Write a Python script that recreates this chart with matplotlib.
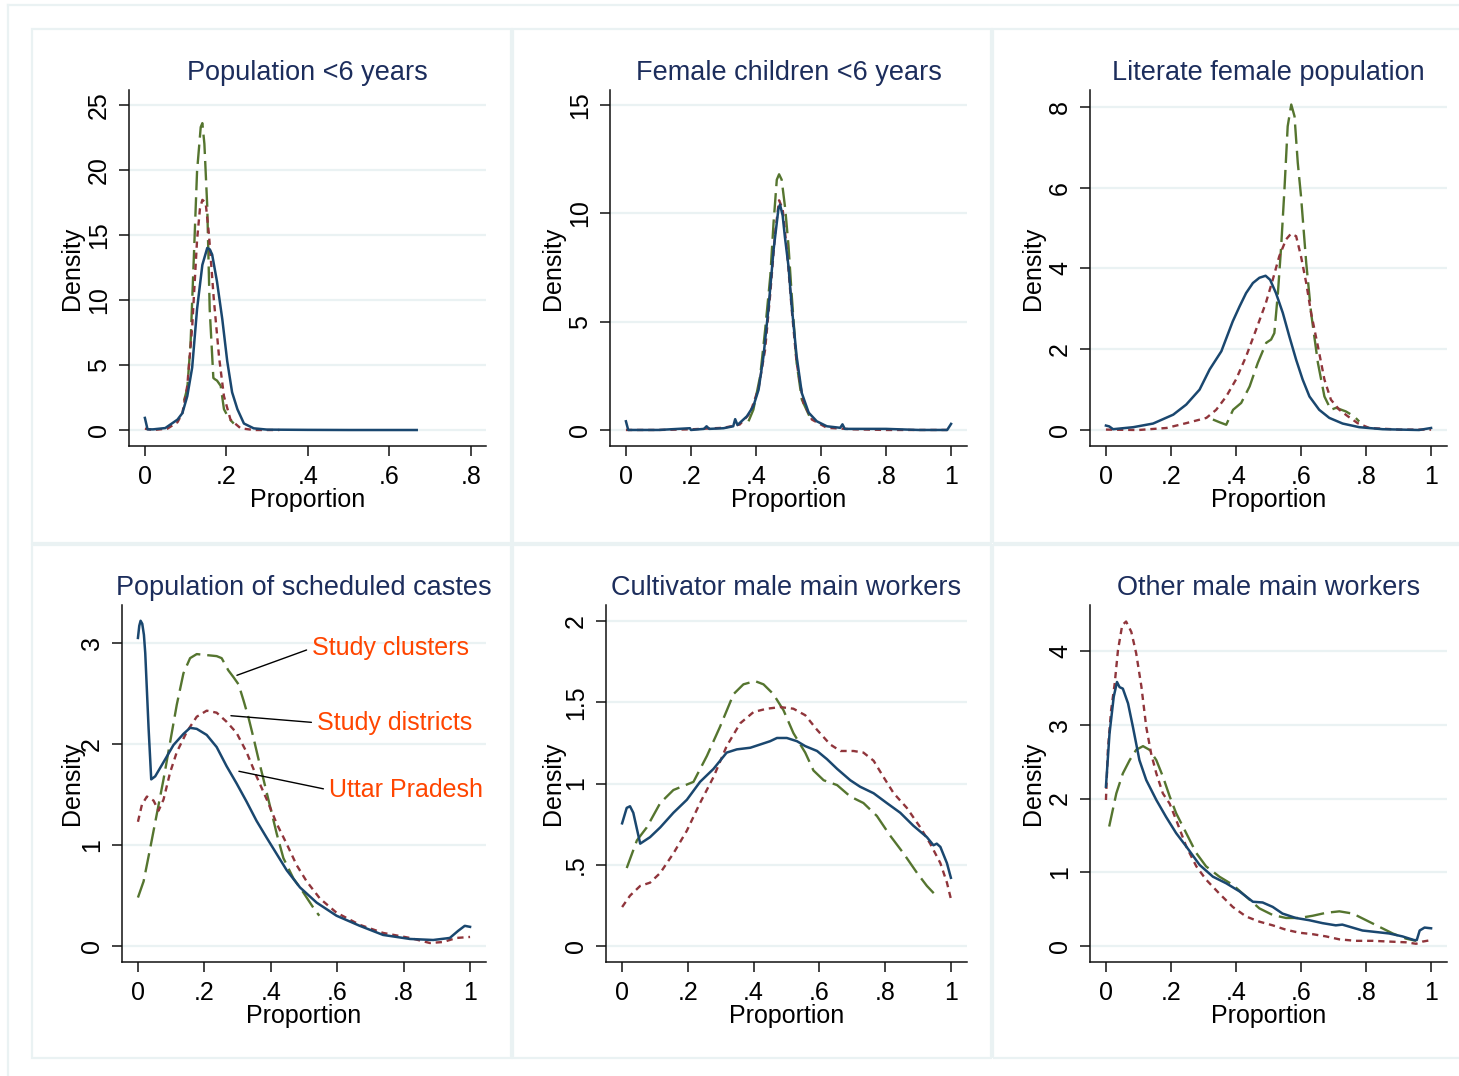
import matplotlib
matplotlib.use('Agg')
import matplotlib.pyplot as plt
from matplotlib.patches import Rectangle
from matplotlib.lines import Line2D

# Density curves (proportion vs density).
# UP = Uttar Pradesh, SD = Study districts, SC = Study clusters

# Population <6 years
p1_up_x = [0, 0.0065, 0.02, 0.05, 0.08, 0.092, 0.104, 0.116, 0.128, 0.141, 0.153, 0.159, 0.165, 0.177,
           0.19, 0.202, 0.214, 0.227, 0.243, 0.267, 0.3, 0.4, 0.5, 0.6, 0.667]
p1_up_y = [0.93, 0.05, 0.05, 0.15, 0.8, 1.3, 2.6, 4.8, 9.3, 12.7, 14.0, 13.9, 13.5, 11.4,
           8.5, 5.3, 2.9, 1.6, 0.5, 0.13, 0.03, 0.01, 0.0, 0.0, 0.0]
p1_sd_x = [0, 0.02, 0.055, 0.08, 0.092, 0.104, 0.116, 0.128, 0.135, 0.141, 0.149, 0.157, 0.169, 0.182,
           0.194, 0.21, 0.235, 0.267, 0.3, 0.33]
p1_sd_y = [0.1, 0.0, 0.1, 0.6, 1.3, 3.4, 7.9, 14.6, 17.0, 17.7, 17.5, 15.1, 10.1, 5.6,
           2.6, 0.8, 0.13, 0.0, 0.0, 0.0]
p1_sc_x = [0.096, 0.104, 0.112, 0.12, 0.128, 0.137, 0.141, 0.146, 0.153, 0.159, 0.168, 0.172, 0.177,
           0.186, 0.194, 0.206, 0.218]
p1_sc_y = [2.25, 3.2, 6.6, 13.2, 19.9, 23.3, 23.6, 22.0, 17.2, 9.3, 4.0, 3.9, 3.8,
           3.4, 1.6, 0.9, 0.5]

# Female children <6 years
p2_up_x = [0, 0.007, 0.1, 0.197, 0.2, 0.24, 0.248, 0.256, 0.3, 0.33, 0.336, 0.343, 0.372, 0.392, 0.408,
           0.423, 0.438, 0.454, 0.469, 0.474, 0.482, 0.489, 0.5, 0.51, 0.525, 0.541, 0.562, 0.587,
           0.618, 0.659, 0.666, 0.673, 0.74, 0.8, 0.9, 0.988, 1.0]
p2_up_y = [0.4, 0.0, 0.0, 0.08, 0.0, 0.05, 0.17, 0.05, 0.08, 0.17, 0.5, 0.23, 0.63, 1.1, 1.86,
           3.4, 5.55, 8.3, 10.2, 10.4, 9.9, 8.9, 7.55, 5.7, 3.4, 1.7, 0.8, 0.4,
           0.17, 0.1, 0.26, 0.05, 0.05, 0.05, 0.0, 0.0, 0.28]
p2_sd_x = [0, 0.1, 0.2, 0.3, 0.35, 0.382, 0.408, 0.428, 0.444, 0.459, 0.471, 0.482, 0.495, 0.51, 0.525,
           0.546, 0.572, 0.618, 0.7, 0.8, 0.9, 0.988]
p2_sd_y = [0.0, 0.0, 0.03, 0.1, 0.25, 0.78, 1.94, 3.7, 6.3, 9.1, 10.6, 10.2, 8.3, 5.55, 3.1,
           1.25, 0.48, 0.1, 0.03, 0.0, 0.0, 0.0]
p2_sc_x = [0.377, 0.392, 0.413, 0.428, 0.444, 0.454, 0.464, 0.471, 0.479, 0.49, 0.5, 0.51, 0.525,
           0.541, 0.567, 0.577]
p2_sc_y = [0.4, 0.94, 2.5, 4.6, 7.1, 9.55, 11.55, 11.8, 11.55, 10.2, 8.5, 6.2, 3.1,
           1.4, 0.55, 0.45]

# Literate female population
p3_up_x = [0, 0.01, 0.022, 0.084, 0.145, 0.207, 0.247, 0.288, 0.319, 0.355, 0.39, 0.411, 0.431, 0.452,
           0.472, 0.491, 0.505, 0.523, 0.544, 0.564, 0.585, 0.605, 0.626, 0.656, 0.687, 0.728,
           0.779, 0.851, 0.963, 1.0]
p3_up_y = [0.11, 0.09, 0.02, 0.07, 0.16, 0.38, 0.63, 1.0, 1.5, 1.95, 2.69, 3.06, 3.39, 3.64,
           3.77, 3.82, 3.72, 3.39, 2.9, 2.32, 1.74, 1.25, 0.83, 0.5, 0.3, 0.16,
           0.07, 0.02, 0.0, 0.05]
p3_sd_x = [0, 0.1, 0.186, 0.247, 0.309, 0.339, 0.37, 0.4, 0.431, 0.462, 0.492, 0.513, 0.533, 0.554,
           0.569, 0.585, 0.6, 0.616, 0.631, 0.652, 0.672, 0.692, 0.718, 0.744, 0.774, 0.81, 0.902, 1.0]
p3_sd_y = [0.01, 0.0, 0.05, 0.17, 0.3, 0.5, 0.83, 1.25, 1.82, 2.49, 3.15, 3.72, 4.3, 4.72,
           4.86, 4.8, 4.3, 3.64, 2.9, 2.07, 1.25, 0.75, 0.5, 0.34, 0.17, 0.05, 0.01, 0.01]
p3_sc_x = [0.329, 0.35, 0.37, 0.391, 0.416, 0.442, 0.467, 0.493, 0.508, 0.518, 0.529, 0.539, 0.549,
           0.559, 0.57, 0.58, 0.59, 0.6, 0.616, 0.631, 0.652, 0.672, 0.692, 0.708, 0.738, 0.763, 0.779]
p3_sc_y = [0.26, 0.19, 0.13, 0.5, 0.67, 1.08, 1.66, 2.16, 2.24, 2.4, 3.4, 4.55, 5.95,
           7.52, 8.06, 7.77, 6.62, 5.79, 4.14, 2.9, 1.66, 0.83, 0.5, 0.55, 0.46, 0.34, 0.21]

# Population of scheduled castes
p4_up_x = [0, 0.004, 0.008, 0.013, 0.018, 0.022, 0.032, 0.04, 0.052, 0.077, 0.107, 0.137, 0.157, 0.177,
           0.207, 0.237, 0.267, 0.297, 0.327, 0.357, 0.388, 0.418, 0.448, 0.488, 0.538, 0.598,
           0.668, 0.738, 0.819, 0.889, 0.939, 0.964, 0.984, 1.0]
p4_up_y = [3.05, 3.17, 3.22, 3.19, 3.08, 2.9, 2.16, 1.65, 1.68, 1.82, 1.99, 2.1, 2.16, 2.15,
           2.09, 1.97, 1.78, 1.61, 1.43, 1.24, 1.07, 0.91, 0.75, 0.58, 0.43, 0.3,
           0.2, 0.11, 0.07, 0.06, 0.08, 0.15, 0.2, 0.19]
p4_sd_x = [0, 0.012, 0.027, 0.047, 0.062, 0.077, 0.097, 0.117, 0.147, 0.177, 0.207, 0.237, 0.267, 0.297,
           0.327, 0.357, 0.388, 0.418, 0.448, 0.478, 0.508, 0.548, 0.598, 0.668, 0.738, 0.819,
           0.879, 0.919, 0.959, 1.0]
p4_sd_y = [1.23, 1.4, 1.48, 1.44, 1.34, 1.45, 1.72, 1.92, 2.12, 2.27, 2.33, 2.31, 2.22, 2.11,
           1.92, 1.68, 1.45, 1.21, 1.01, 0.8, 0.64, 0.47, 0.33, 0.21, 0.13, 0.08,
           0.03, 0.04, 0.08, 0.09]
p4_sc_x = [0, 0.017, 0.037, 0.057, 0.077, 0.097, 0.117, 0.137, 0.157, 0.177, 0.207, 0.237, 0.252, 0.272,
           0.288, 0.303, 0.318, 0.333, 0.348, 0.363, 0.378, 0.398, 0.418, 0.438, 0.468, 0.498,
           0.528, 0.546]
p4_sc_y = [0.48, 0.64, 0.97, 1.31, 1.65, 2.02, 2.39, 2.7, 2.85, 2.89, 2.88, 2.87, 2.85, 2.73,
           2.66, 2.59, 2.43, 2.26, 2.06, 1.85, 1.65, 1.38, 1.11, 0.87, 0.67, 0.53,
           0.38, 0.3]

# Cultivator male main workers
p5_up_x = [0, 0.014, 0.024, 0.034, 0.055, 0.085, 0.116, 0.156, 0.197, 0.237, 0.278, 0.318, 0.349, 0.39,
           0.42, 0.45, 0.471, 0.501, 0.532, 0.557, 0.593, 0.623, 0.654, 0.694, 0.724, 0.765,
           0.805, 0.846, 0.886, 0.927, 0.947, 0.957, 0.968, 0.988, 1.0]
p5_up_y = [0.755, 0.85, 0.86, 0.82, 0.63, 0.67, 0.73, 0.82, 0.9, 1.01, 1.09, 1.19, 1.21, 1.22,
           1.24, 1.26, 1.28, 1.28, 1.26, 1.23, 1.2, 1.15, 1.09, 1.02, 0.98, 0.94,
           0.88, 0.82, 0.74, 0.67, 0.62, 0.63, 0.61, 0.51, 0.42]
p5_sd_x = [0, 0.024, 0.055, 0.085, 0.116, 0.156, 0.197, 0.237, 0.278, 0.318, 0.359, 0.4, 0.44, 0.481,
           0.521, 0.557, 0.593, 0.633, 0.664, 0.704, 0.734, 0.765, 0.795, 0.826, 0.866, 0.907,
           0.937, 0.968, 0.988, 1.0]
p5_sd_y = [0.24, 0.31, 0.37, 0.39, 0.45, 0.57, 0.71, 0.88, 1.04, 1.23, 1.37, 1.44, 1.46, 1.47,
           1.46, 1.42, 1.33, 1.24, 1.2, 1.2, 1.19, 1.14, 1.04, 0.94, 0.85, 0.73,
           0.63, 0.51, 0.39, 0.29]
p5_sc_x = [0.014, 0.045, 0.075, 0.116, 0.156, 0.217, 0.258, 0.298, 0.339, 0.369, 0.404, 0.43, 0.46,
           0.491, 0.521, 0.557, 0.582, 0.613, 0.654, 0.694, 0.734, 0.775, 0.815, 0.856, 0.897,
           0.927, 0.955]
p5_sc_y = [0.48, 0.65, 0.73, 0.88, 0.96, 1.01, 1.17, 1.35, 1.55, 1.61, 1.63, 1.61, 1.55,
           1.45, 1.31, 1.19, 1.08, 1.02, 0.99, 0.92, 0.88, 0.8, 0.68, 0.57, 0.45,
           0.37, 0.31]

# Other male main workers
p6_up_x = [0, 0.011, 0.024, 0.034, 0.042, 0.052, 0.068, 0.083, 0.103, 0.124, 0.155, 0.185, 0.216, 0.247,
           0.288, 0.329, 0.37, 0.411, 0.452, 0.482, 0.513, 0.543, 0.584, 0.625, 0.666, 0.707,
           0.727, 0.758, 0.789, 0.83, 0.871, 0.912, 0.948, 0.956, 0.965, 0.98, 1.0]
p6_up_y = [2.16, 2.88, 3.38, 3.58, 3.51, 3.49, 3.29, 2.97, 2.52, 2.25, 1.98, 1.75, 1.53, 1.35,
           1.1, 0.94, 0.85, 0.74, 0.6, 0.59, 0.53, 0.44, 0.38, 0.35, 0.31, 0.28,
           0.29, 0.25, 0.21, 0.19, 0.17, 0.13, 0.08, 0.08, 0.21, 0.25, 0.24]
p6_sd_x = [0, 0.006, 0.016, 0.027, 0.037, 0.05, 0.062, 0.078, 0.093, 0.109, 0.124, 0.139, 0.155, 0.175,
           0.196, 0.216, 0.247, 0.278, 0.308, 0.349, 0.39, 0.431, 0.472, 0.513, 0.554, 0.595,
           0.636, 0.677, 0.718, 0.769, 0.821, 0.872, 0.923, 0.954, 0.974, 1.0]
p6_sd_y = [1.98, 2.66, 3.2, 3.56, 4.01, 4.35, 4.4, 4.26, 3.97, 3.52, 2.97, 2.61, 2.34, 2.07,
           1.93, 1.71, 1.35, 1.08, 0.9, 0.71, 0.53, 0.4, 0.33, 0.28, 0.22, 0.18,
           0.16, 0.13, 0.09, 0.07, 0.07, 0.06, 0.05, 0.03, 0.06, 0.08]
p6_sc_x = [0.01, 0.032, 0.052, 0.073, 0.093, 0.114, 0.134, 0.155, 0.175, 0.196, 0.216, 0.247, 0.278,
           0.308, 0.349, 0.39, 0.431, 0.472, 0.513, 0.554, 0.595, 0.636, 0.677, 0.718, 0.759,
           0.8, 0.841, 0.882, 0.923, 0.954]
p6_sc_y = [1.62, 2.07, 2.34, 2.52, 2.66, 2.71, 2.66, 2.52, 2.3, 2.03, 1.8, 1.53, 1.26,
           1.08, 0.94, 0.83, 0.67, 0.51, 0.42, 0.38, 0.38, 0.41, 0.45, 0.47, 0.44,
           0.35, 0.26, 0.17, 0.1, 0.07]

titles = ["Population <6 years", "Female children <6 years", "Literate female population",
          "Population of scheduled castes", "Cultivator male main workers", "Other male main workers"]
series_names = ["Uttar Pradesh", "Study districts", "Study clusters"]

# style
W, H = 1459, 1076
navy = '#1A476F'
maroon = '#90353B'
green = '#55752F'
light = '#EAF2F3'
title_col = '#1C2D5C'
note_col = '#FF4500'

plt.rcParams['font.family'] = ['Liberation Sans', 'DejaVu Sans']
plt.rcParams['lines.scale_dashes'] = False


def px_rect(l, t, r, b):
    return [l / W, 1 - b / H, (r - l) / W, (b - t) / H]


fig = plt.figure(figsize=(W / 100, H / 100), dpi=100)
fig.patch.set_facecolor('white')

# outer frame and panel frames (light lines of the combined graph)
fig.add_artist(Line2D([8 / W, 8 / W], [0, 1 - 5 / H], transform=fig.transFigure, color=light, lw=1.6))
fig.add_artist(Line2D([8 / W, 1], [1 - 5 / H, 1 - 5 / H], transform=fig.transFigure, color=light, lw=1.6))
for (l, t, r, b) in [(32, 29, 511, 543), (513, 29, 991, 543), (993, 29, 1475, 543),
                     (32, 545, 511, 1058), (513, 545, 991, 1058), (993, 545, 1475, 1058)]:
    fig.add_artist(Rectangle((l / W, 1 - b / H), (r - l) / W, (b - t) / H, transform=fig.transFigure,
                             fill=False, edgecolor=light, lw=1.6))

panels = [
    dict(box=(129, 90, 486, 446), xlim=(-0.039, 0.837), ylim=(-1.23, 26.15),
         xt=[0, .2, .4, .6, .8], xl=['0', '.2', '.4', '.6', '.8'],
         yt=[0, 5, 10, 15, 20, 25], yl=['0', '5', '10', '15', '20', '25'], ylx=-0.16,
         data=[(p1_up_x, p1_up_y), (p1_sd_x, p1_sd_y), (p1_sc_x, p1_sc_y)]),
    dict(box=(610, 90, 967, 446), xlim=(-0.049, 1.049), ylim=(-0.74, 15.69),
         xt=[0, .2, .4, .6, .8, 1], xl=['0', '.2', '.4', '.6', '.8', '1'],
         yt=[0, 5, 10, 15], yl=['0', '5', '10', '15'], ylx=-0.16,
         data=[(p2_up_x, p2_up_y), (p2_sd_x, p2_sd_y), (p2_sc_x, p2_sc_y)]),
    dict(box=(1090, 90, 1447, 446), xlim=(-0.049, 1.049), ylim=(-0.396, 8.42),
         xt=[0, .2, .4, .6, .8, 1], xl=['0', '.2', '.4', '.6', '.8', '1'],
         yt=[0, 2, 4, 6, 8], yl=['0', '2', '4', '6', '8'], ylx=-0.16,
         data=[(p3_up_x, p3_up_y), (p3_sd_x, p3_sd_y), (p3_sc_x, p3_sc_y)]),
    dict(box=(122, 605, 486, 962), xlim=(-0.048, 1.048), ylim=(-0.158, 3.376),
         xt=[0, .2, .4, .6, .8, 1], xl=['0', '.2', '.4', '.6', '.8', '1'],
         yt=[0, 1, 2, 3], yl=['0', '1', '2', '3'], ylx=-0.137,
         data=[(p4_up_x, p4_up_y), (p4_sd_x, p4_sd_y), (p4_sc_x, p4_sc_y)]),
    dict(box=(606, 605, 967, 962), xlim=(-0.049, 1.049), ylim=(-0.098, 2.098),
         xt=[0, .2, .4, .6, .8, 1], xl=['0', '.2', '.4', '.6', '.8', '1'],
         yt=[0, .5, 1, 1.5, 2], yl=['0', '.5', '1', '1.5', '2'], ylx=-0.148,
         data=[(p5_up_x, p5_up_y), (p5_sd_x, p5_sd_y), (p5_sc_x, p5_sc_y)]),
    dict(box=(1090, 605, 1447, 962), xlim=(-0.049, 1.049), ylim=(-0.217, 4.624),
         xt=[0, .2, .4, .6, .8, 1], xl=['0', '.2', '.4', '.6', '.8', '1'],
         yt=[0, 1, 2, 3, 4], yl=['0', '1', '2', '3', '4'], ylx=-0.16,
         data=[(p6_up_x, p6_up_y), (p6_sd_x, p6_sd_y), (p6_sc_x, p6_sc_y)]),
]

styles = [dict(color=navy, lw=1.8, ls='-'),
          dict(color=maroon, lw=1.7, dashes=(4.5, 3.5)),
          dict(color=green, lw=1.7, dashes=(14, 5))]

axes = []
for i, p in enumerate(panels):
    ax = fig.add_axes(px_rect(*p['box']))
    axes.append(ax)
    ax.set_facecolor('white')
    # draw clusters, districts, then state on top
    for k in [2, 1, 0]:
        x, y = p['data'][k]
        ax.plot(x, y, label=series_names[k], **styles[k])
    ax.set_xlim(*p['xlim'])
    ax.set_ylim(*p['ylim'])
    ax.set_xticks(p['xt'])
    ax.set_xticklabels(p['xl'])
    ax.set_yticks(p['yt'])
    ax.set_yticklabels(p['yl'], rotation=90, va='center')
    ax.grid(axis='y', color=light, lw=1.6)
    ax.set_axisbelow(True)
    for s in ['top', 'right']:
        ax.spines[s].set_visible(False)
    for s in ['left', 'bottom']:
        ax.spines[s].set_linewidth(1.1)
        ax.spines[s].set_color('#111111')
    ax.tick_params(direction='out', length=7, width=1.1, color='#111111', labelsize=18, pad=6)
    ax.tick_params(axis='x', pad=7)
    ax.set_title(titles[i], fontsize=19.5, color=title_col, pad=7)
    ax.set_xlabel('Proportion', fontsize=18, va='center')
    ax.set_ylabel('Density', fontsize=18, va='center')
    ax.xaxis.set_label_coords(0.5, -0.152)
    ax.yaxis.set_label_coords(p['ylx'], 0.5)

# labels for the three curves in the scheduled castes panel
ax4 = axes[3]
notes = [("Study clusters", (0.298, 2.68), (0.524, 2.95)),
         ("Study districts", (0.280, 2.28), (0.539, 2.21)),
         ("Uttar Pradesh", (0.304, 1.73), (0.575, 1.545))]
for txt, xy, xyt in notes:
    ax4.annotate(txt, xy=xy, xytext=xyt, fontsize=18, color=note_col, ha='left', va='center',
                 arrowprops=dict(arrowstyle='-', color='black', lw=1.0, shrinkA=2, shrinkB=0,
                                 relpos=(0, 0.5)),
                 annotation_clip=False)

fig.savefig('out.png', dpi=100)
